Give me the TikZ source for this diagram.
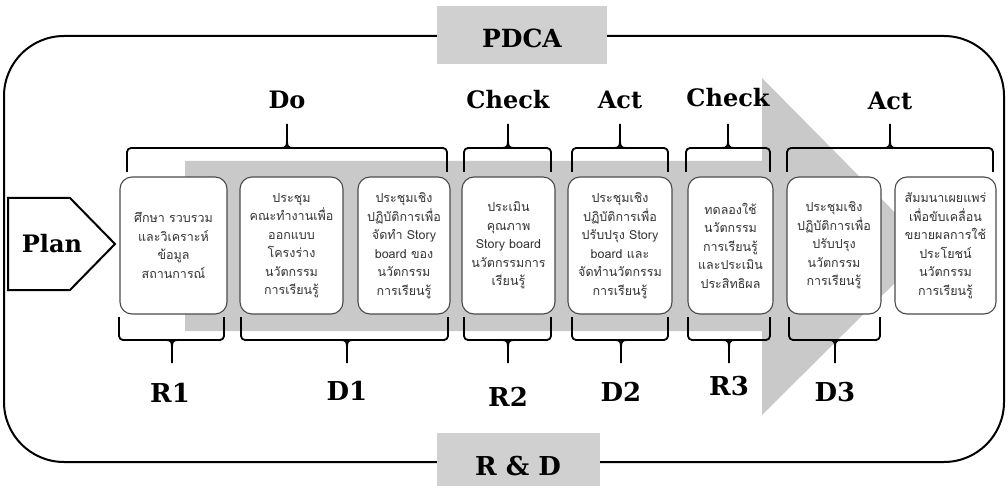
\documentclass[tikz,border=0pt]{standalone}
\usepackage{fontspec}
\newfontfamily\thai[Script=Thai]{Loma}
\newfontfamily\lab{DejaVu Serif}
\definecolor{bandgray}{HTML}{C9C9C9}
\definecolor{boxgray}{HTML}{D0D0D0}
\definecolor{edge}{HTML}{4A4A4A}
\definecolor{txt}{HTML}{333333}
\newcommand\topbr[3]{%
  \draw[bracket] (#1,172) -- (#1,148) -- (#2,148) -- (#2,172);
  \draw[stem] (#3-6,148) .. controls (#3-1,148) and (#3,146) .. (#3,141) -- (#3,124);
  \draw[stem] (#3+6,148) .. controls (#3+1,148) and (#3,146) .. (#3,141);
}
\newcommand\botbr[3]{%
  \draw[bracket] (#1,317) -- (#1,340) -- (#2,340) -- (#2,317);
  \draw[stem] (#3-6,340) .. controls (#3-1,340) and (#3,342) .. (#3,347) -- (#3,363);
  \draw[stem] (#3+6,340) .. controls (#3+1,340) and (#3,342) .. (#3,347);
}
\begin{document}
\begin{tikzpicture}[x=1pt,y=-1pt,
  stepbox/.style={draw=edge, line width=1.1pt, fill=white, rounded corners=12pt,
    minimum height=137pt, inner sep=2pt, align=center,
    font=\thai\fontsize{12.5}{18.5}\selectfont, text=txt},
  phase/.style={font=\lab\bfseries\fontsize{24}{24}\selectfont},
  code/.style={font=\lab\bfseries\fontsize{26}{26}\selectfont},
  bracket/.style={line width=1.8pt, line join=round, rounded corners=4pt},
  stem/.style={line width=1.8pt},
  tagbox/.style={fill=boxgray, inner sep=0pt},
]
\useasboundingbox (0,0) rectangle (1008,486);
% outer frame
\draw[line width=2pt, rounded corners=60pt] (4,36) rectangle (1004,462);
% big grey arrow
\fill[bandgray] (185,161) -- (762,161) -- (762,78) -- (930,248) -- (762,415)
  -- (762,331) -- (185,331) -- cycle;
% braces
\topbr{127}{447}{287}
\topbr{464}{551}{508}
\topbr{572}{668}{620}
\topbr{686}{770}{728}
\topbr{787}{993}{890}
\botbr{119}{224}{172}
\botbr{241}{448}{347}
\botbr{464}{551}{508}
\botbr{572}{668}{621}
\botbr{688}{770}{729}
\botbr{789}{880}{835}
% plan arrow
\draw[line width=2pt, line join=miter] (8,198) -- (70,198) -- (115,244) -- (70,290) -- (8,290) -- cycle;
\node[font=\lab\bfseries\fontsize{24}{24}\selectfont] (plan) at (52,244) {Plan};
% step boxes
\node[stepbox, minimum width=107pt] (b1) at (173.5,245.5) {ศึกษา รวบรวม\\และวิเคราะห์\\ข้อมูล\\สถานการณ์};
\node[stepbox, minimum width=103pt] (b2) at (291.5,245.5) {ประชุม\\คณะทำงานเพื่อ\\ออกแบบ\\โครงร่าง\\นวัตกรรม\\การเรียนรู้};
\node[stepbox, minimum width=92pt] (b3) at (404,245.5) {ประชุมเชิง\\ปฏิบัติการเพื่อ\\จัดทำ Story\\board ของ\\นวัตกรรม\\การเรียนรู้};
\node[stepbox, minimum width=93pt] (b4) at (508.5,245.5) {ประเมิน\\คุณภาพ\\Story board\\นวัตกรรมการ\\เรียนรู้};
\node[stepbox, minimum width=104pt] (b5) at (620,245.5) {ประชุมเชิง\\ปฏิบัติการเพื่อ\\ปรับปรุง Story\\board และ\\จัดทำนวัตกรรม\\การเรียนรู้};
\node[stepbox, minimum width=85pt] (b6) at (730.5,245.5) {ทดลองใช้\\นวัตกรรม\\การเรียนรู้\\และประเมิน\\ประสิทธิผล};
\node[stepbox, minimum width=94pt] (b7) at (834,245.5) {ประชุมเชิง\\ปฏิบัติการเพื่อ\\ปรับปรุง\\นวัตกรรม\\การเรียนรู้};
\node[stepbox, minimum width=101pt] (b8) at (945.5,245.5) {สัมมนาเผยแพร่\\เพื่อขับเคลื่อน\\ขยายผลการใช้\\ประโยชน์\\นวัตกรรม\\การเรียนรู้};
% phase labels
\node[phase] (do) at (287,100) {Do};
\node[phase] (ck1) at (508,100) {Check};
\node[phase] (ac1) at (620,100) {Act};
\node[phase] (ck2) at (728,98) {Check};
\node[phase] (ac2) at (890,101) {Act};
% code labels
\node[code] (r1) at (170,393) {R1};
\node[code] (d1) at (347,391) {D1};
\node[code] (r2) at (508,397) {R2};
\node[code] (d2) at (621,392) {D2};
\node[code] (r3) at (729,386) {R3};
\node[code] (d3) at (835,392) {D3};
% title tags
\fill[boxgray] (437,6) rectangle (607,64);
\node[font=\lab\bfseries\fontsize{25}{25}\selectfont] (pdca) at (522,38) {PDCA};
\fill[boxgray] (437,433) rectangle (600,486);
\node[font=\lab\bfseries\fontsize{26}{26}\selectfont] (rd) at (518,466) {R \& D};
\end{tikzpicture}
\end{document}
